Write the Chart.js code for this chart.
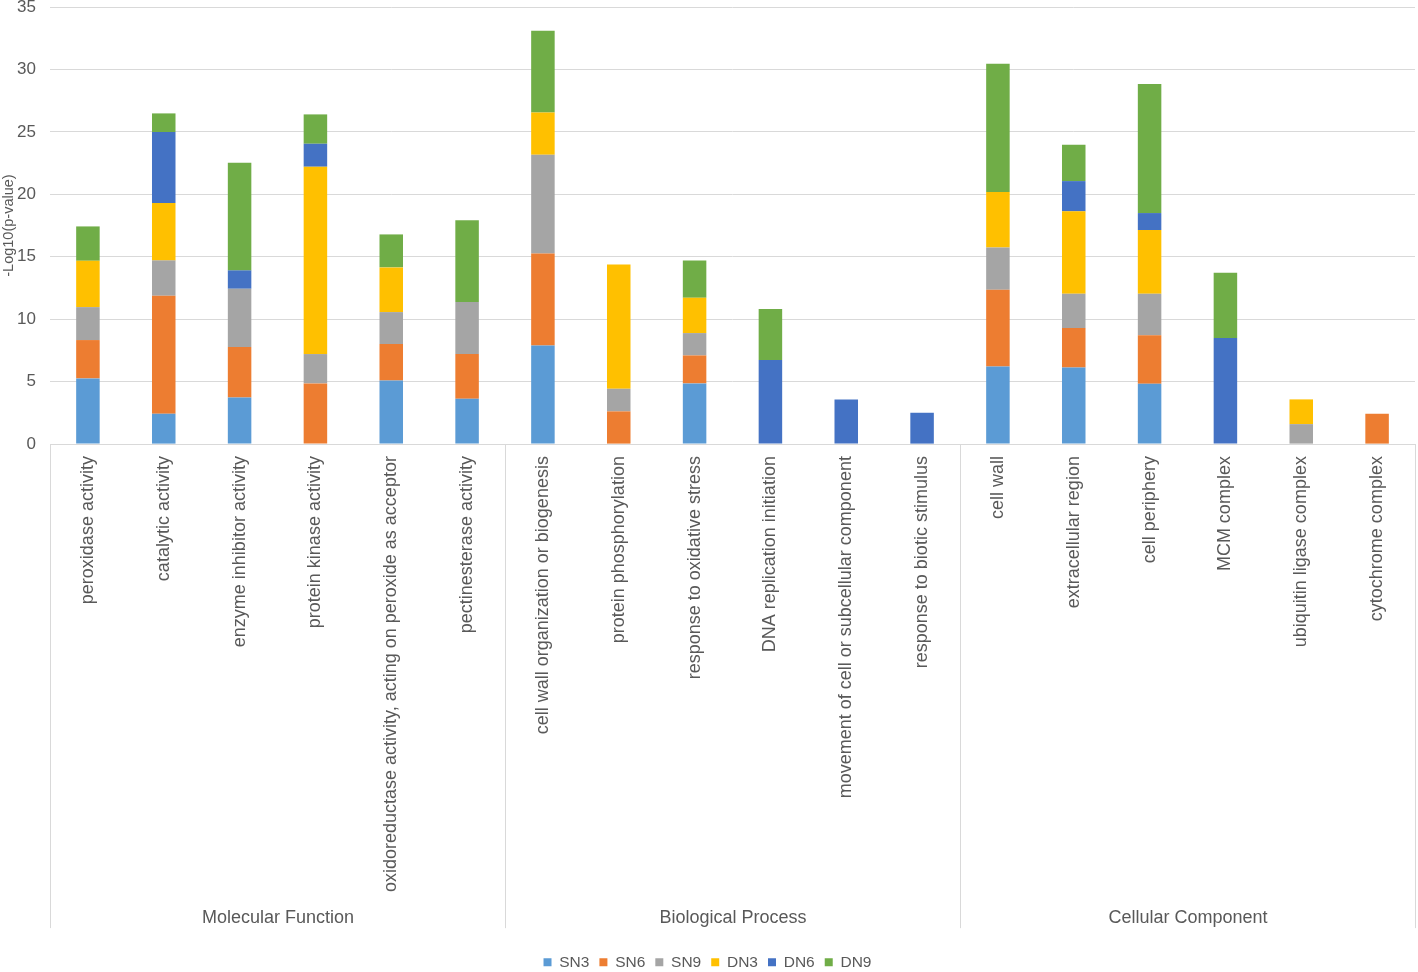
<!DOCTYPE html>
<html>
<head>
<meta charset="utf-8">
<script src="https://cdn.jsdelivr.net/npm/chart.js@4/dist/chart.umd.min.js"></script>
<style>
  html, body { margin: 0; padding: 0; background: #ffffff; }
  #wrap { width: 1418px; height: 972px; position: relative; }
</style>
</head>
<body>
<div id="wrap"><canvas id="goChart"></canvas></div>
<script>
const categories = [
    "peroxidase activity",
    "catalytic activity",
    "enzyme inhibitor activity",
    "protein kinase activity",
    "oxidoreductase activity, acting on peroxide as acceptor",
    "pectinesterase activity",
    "cell wall organization or biogenesis",
    "protein phosphorylation",
    "response to oxidative stress",
    "DNA replication initiation",
    "movement of cell or subcellular component",
    "response to biotic stimulus",
    "cell wall",
    "extracellular region",
    "cell periphery",
    "MCM complex",
    "ubiquitin ligase complex",
    "cytochrome complex",
];
const groupNames = ["Molecular Function", "Biological Process", "Cellular Component"];
const groupSizes = [6, 6, 6];

const sn3 = [5.26, 2.43, 3.74, 0, 5.1, 3.63, 7.9, 0, 4.86, 0, 0, 0, 6.22, 6.14, 4.83, 0, 0, 0];
const sn6 = [3.07, 9.45, 4.03, 4.86, 2.91, 3.58, 7.37, 2.62, 2.24, 0, 0, 0, 6.14, 3.15, 3.88, 0, 0, 2.43];
const sn9 = [2.64, 2.83, 4.67, 2.35, 2.56, 4.16, 7.9, 1.81, 1.79, 0, 0, 0, 3.39, 2.75, 3.33, 0, 1.6, 0];
const dn3 = [3.71, 4.59, 0, 15.0, 3.58, 0, 3.39, 9.96, 2.83, 0, 0, 0, 4.43, 6.6, 5.1, 0, 1.98, 0];
const dn6 = [0, 5.69, 1.47, 1.84, 0, 0, 0, 0, 0, 6.73, 3.58, 2.51, 0, 2.42, 1.36, 8.49, 0, 0];
const dn9 = [2.75, 1.49, 8.62, 2.35, 2.64, 6.55, 6.54, 0, 2.99, 4.08, 0, 0, 10.28, 2.91, 10.33, 5.23, 0, 0];

const yTicks = [0, 5, 10, 15, 20, 25, 30, 35];

const textColor = "#595959";
const gridColor = "#d9d9d9";

// vertical separators and group names under the category labels
const groupSplit = {
    id: "groupSplit",
    afterDraw: function (chart) {
        const ctx = chart.ctx;
        const x = chart.scales.x;
        const top = chart.chartArea.bottom;
        const bottom = x.bottom;
        const step = x.getPixelForValue(1) - x.getPixelForValue(0);
        let start = 0;
        ctx.save();
        ctx.strokeStyle = gridColor;
        ctx.lineWidth = 1;
        ctx.fillStyle = textColor;
        ctx.font = "18px 'Liberation Sans', Arial, sans-serif";
        ctx.textAlign = "center";
        ctx.textBaseline = "middle";
        groupNames.forEach(function (name, i) {
            const n = groupSizes[i];
            const left = Math.round(x.getPixelForValue(start) - step / 2) + 0.5;
            const right = Math.round(x.getPixelForValue(start + n - 1) + step / 2) + 0.5;
            ctx.beginPath();
            ctx.moveTo(left, top);
            ctx.lineTo(left, bottom);
            ctx.moveTo(right, top);
            ctx.lineTo(right, bottom);
            ctx.stroke();
            ctx.fillText(name, (left + right) / 2, bottom - 10);
            start += n;
        });
        ctx.restore();
    },
};

document.addEventListener("DOMContentLoaded", function () {
    const ctx = document.getElementById("goChart");
    if (!ctx) return;

    Chart.defaults.font.family = "'Liberation Sans', Arial, sans-serif";
    Chart.defaults.color = textColor;

    const series = [
        { label: "SN3", data: sn3, color: "#5B9BD5" },
        { label: "SN6", data: sn6, color: "#ED7D31" },
        { label: "SN9", data: sn9, color: "#A5A5A5" },
        { label: "DN3", data: dn3, color: "#FFC000" },
        { label: "DN6", data: dn6, color: "#4472C4" },
        { label: "DN9", data: dn9, color: "#70AD47" },
    ];

    new Chart(ctx, {
        type: "bar",
        data: {
            labels: categories,
            datasets: series.map(function (s) {
                return {
                    label: s.label,
                    data: s.data,
                    backgroundColor: s.color,
                    borderWidth: 0,
                    barPercentage: 0.62,
                    categoryPercentage: 0.5,
                };
            }),
        },
        options: {
            responsive: true,
            maintainAspectRatio: false,
            animation: false,
            layout: {
                padding: { top: 0, right: 3, left: 0, bottom: -8 },
            },
            plugins: {
                legend: {
                    position: "bottom",
                    title: {
                        display: true,
                        text: " ",
                        padding: 1,
                        font: { size: 12 },
                    },
                    labels: {
                        boxWidth: 8,
                        boxHeight: 8,
                        padding: 10,
                        font: { size: 15.5 },
                        color: textColor,
                    },
                },
                tooltip: { enabled: false },
            },
            scales: {
                x: {
                    stacked: true,
                    grid: { display: false },
                    border: { color: gridColor },
                    ticks: {
                        autoSkip: false,
                        minRotation: 90,
                        maxRotation: 90,
                        padding: 4,
                        font: { size: 18 },
                        color: textColor,
                    },
                    afterFit: function (scale) {
                        scale.height = 484;
                        scale.paddingTop = 0;
                    },
                },
                y: {
                    stacked: true,
                    min: 0,
                    max: 35,
                    afterBuildTicks: function (scale) {
                        scale.ticks = yTicks.map(function (v) {
                            return { value: v };
                        });
                    },
                    grid: { color: gridColor, drawTicks: false },
                    border: { display: false },
                    ticks: {
                        padding: 14,
                        font: { size: 17 },
                        color: textColor,
                    },
                    title: {
                        display: true,
                        text: "-Log10(p-value)",
                        font: { size: 14.5 },
                        color: textColor,
                        padding: 0,
                    },
                    afterFit: function (scale) {
                        scale.width = 50;
                        scale.paddingTop = 7;
                        scale.paddingBottom = 0;
                    },
                },
            },
        },
        plugins: [groupSplit],
    });
});
</script>
</body>
</html>
